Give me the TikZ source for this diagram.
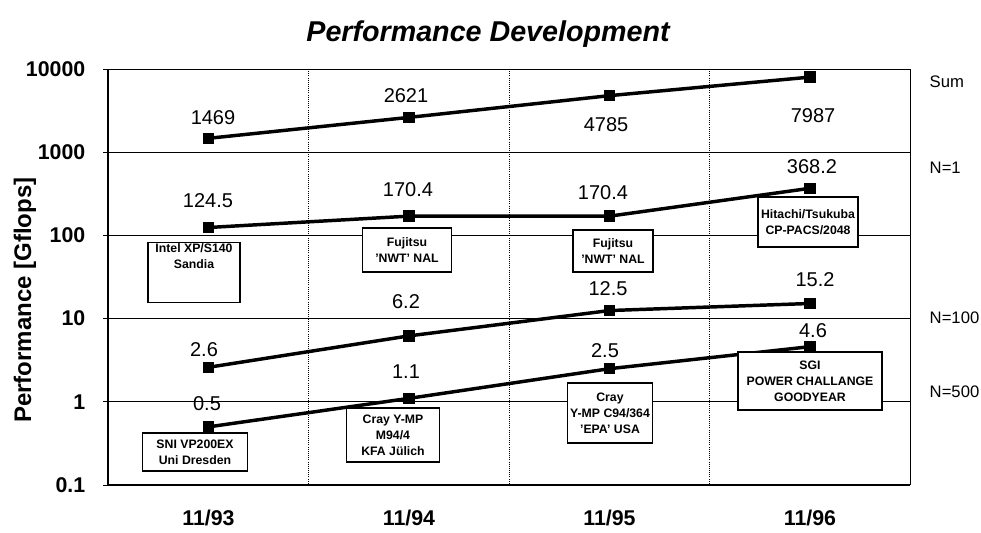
\documentclass[tikz,border=0pt]{standalone}
\usepackage{fontspec}
\setmainfont{Liberation Sans}
\usetikzlibrary{plotmarks}

% y position (in px) of a value on the log axis
\newcommand{\perfy}[1]{485-83.2*(log10(#1)+1)}

\begin{document}
\begin{tikzpicture}[x=0.75pt,y=-0.75pt,
  valuelabel/.style={font=\fontsize{15}{18}\selectfont},
  ticklabel/.style={font=\bfseries\fontsize{16}{19}\selectfont},
  serieslabel/.style={anchor=west,font=\fontsize{12.5}{15}\selectfont},
  machinebox/.style={draw,line width=0.9pt,fill=white,align=center,inner sep=1pt,
    font=\bfseries\fontsize{9.2}{12}\selectfont},
  series/.style={line width=2.6pt,mark=square*,mark size=3pt},
  gridline/.style={line width=0.6pt},
  sepline/.style={line width=0.6pt,densely dotted}]

\useasboundingbox (0,0) rectangle (981,532);

\node[font=\bfseries\itshape\fontsize{21.5}{25}\selectfont] (title) at (488,34) {Performance Development};

% grid and y ticks
\foreach \v [count=\i] in {0.1,1,10,100,1000,10000} {
  \draw[gridline] (103,{\perfy{\v}}) -- (910,{\perfy{\v}});
  \node[ticklabel,anchor=east] (tick\i) at (90,{\perfy{\v}}) {\v};
}
\foreach \x in {308.5,509,709.5}
  \draw[sepline] (\x,{\perfy{10000}}) -- (\x,485);
\draw[line width=1pt] (108,{\perfy{10000}}) -- (108,485) -- (910,485);
\draw[gridline] (910,{\perfy{10000}}) -- (910,485);

\node[rotate=90,font=\bfseries\fontsize{18}{21}\selectfont] (ylabel) at (25,300) {Performance [Gflops]};

% x labels
\foreach \x/\d [count=\i] in {208.5/11\slash93,409/11\slash94,609.5/11\slash95,810/11\slash96}
  \node[ticklabel] (date\i) at (\x,518) {\d};

% series
\foreach \a/\b/\c/\d in {1469/2621/4785/7987,124.5/170.4/170.4/368.2,2.6/6.2/12.5/15.2,0.5/1.1/2.5/4.6} {
  \pgfmathsetmacro\ya{\perfy{\a}}
  \pgfmathsetmacro\yb{\perfy{\b}}
  \pgfmathsetmacro\yc{\perfy{\c}}
  \pgfmathsetmacro\yd{\perfy{\d}}
  \draw[series] plot coordinates {(208.5,\ya) (409,\yb) (609.5,\yc) (810,\yd)};
}

\node[serieslabel] (sum) at (925,82) {Sum};
\node[serieslabel] (n1) at (925,168) {N=1};
\node[serieslabel] (n100) at (925,318) {N=100};
\node[serieslabel] (n500) at (925,392) {N=500};

% machines
\node[machinebox,minimum width=69pt,minimum height=42.75pt,anchor=north] (intel) at (194,242) {Intel XP/S140\\Sandia\\\mbox{}\\\mbox{}};
\node[machinebox,minimum width=66.75pt,minimum height=33pt] (nwta) at (407,250) {Fujitsu\\'NWT' NAL};
\node[machinebox,minimum width=60pt,minimum height=31.5pt] (nwtb) at (613,251) {Fujitsu\\'NWT' NAL};
\node[machinebox,minimum width=75pt,minimum height=37.5pt] (hitachi) at (808,222) {Hitachi/Tsukuba\\CP-PACS/2048};
\node[machinebox,minimum width=108pt,minimum height=43.5pt] (sgi) at (810,381) {SGI\\POWER CHALLANGE\\GOODYEAR};
\node[machinebox,minimum width=78.75pt,minimum height=28.5pt] (sni) at (195,452) {SNI VP200EX\\Uni Dresden};
\node[machinebox,minimum width=69.75pt,minimum height=40.5pt] (cray) at (393,435) {Cray Y-MP\\M94/4\\KFA Jülich};
\node[machinebox,minimum width=63.75pt,minimum height=45pt] (epa) at (610,413) {Cray\\Y-MP C94/364\\'EPA' USA};

% values
\node[valuelabel] (s1) at (213,118) {1469};
\node[valuelabel] (s2) at (406,96) {2621};
\node[valuelabel] (s3) at (606,125) {4785};
\node[valuelabel] (s4) at (813,116) {7987};
\node[valuelabel] (a1) at (208,201) {124.5};
\node[valuelabel] (a2) at (408,190) {170.4};
\node[valuelabel] (a3) at (603,193) {170.4};
\node[valuelabel] (a4) at (812,167) {368.2};
\node[valuelabel] (b1) at (204,350) {2.6};
\node[valuelabel] (b2) at (406,302) {6.2};
\node[valuelabel] (b3) at (608,289) {12.5};
\node[valuelabel] (b4) at (815,280) {15.2};
\node[valuelabel] (c1) at (207,404) {0.5};
\node[valuelabel] (c2) at (406,372) {1.1};
\node[valuelabel] (c3) at (605,351) {2.5};
\node[valuelabel] (c4) at (813,331) {4.6};
\end{tikzpicture}
\end{document}
